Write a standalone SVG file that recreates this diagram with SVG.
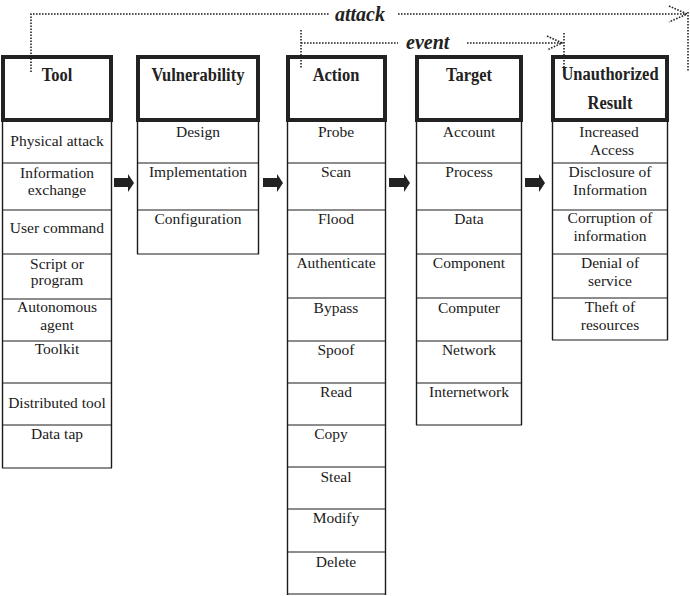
<svg xmlns="http://www.w3.org/2000/svg" width="690" height="596" viewBox="0 0 690 596">
<style>
.hdr{fill:none;stroke:#222;stroke-width:4}
.ln{stroke:#1a1a1a;stroke-width:1.4;fill:none}
.dv{stroke:#1a1a1a;stroke-width:1;fill:none}
.ht{font-family:"Liberation Serif",serif;font-weight:bold;font-size:16.5px;fill:#222;text-anchor:middle}
.bt{font-family:"Liberation Serif",serif;font-size:15.5px;fill:#1a1a1a;text-anchor:middle}
.lb{font-family:"Liberation Serif",serif;font-weight:bold;font-style:italic;font-size:20px;fill:#222}
.dot{stroke:#222;stroke-width:1.6;fill:none;stroke-dasharray:1.6,1.4}
.blk{fill:#222}
</style>
<rect width="690" height="596" fill="#fff"/>
<g id="tool">
<rect class="hdr" x="3" y="57" width="108" height="63"/>
<text class="ht" transform="translate(57,81) scale(1,1.18)">Tool</text>
<path class="ln" d="M2.5,122 V468 M111.5,122 V468"/>
<path class="dv" d="M2,163 H112 M2,210 H112 M2,254 H112 M2,299 H112 M2,341 H112 M2,383 H112 M2,425 H112 M2,468 H112"/>
<text class="bt" x="57" y="146">Physical attack</text>
<text class="bt" x="57" y="178">Information</text>
<text class="bt" x="57" y="195">exchange</text>
<text class="bt" x="57" y="233">User command</text>
<text class="bt" x="57" y="269">Script or</text>
<text class="bt" x="57" y="285">program</text>
<text class="bt" x="57" y="312">Autonomous</text>
<text class="bt" x="57" y="330">agent</text>
<text class="bt" x="57" y="354">Toolkit</text>
<text class="bt" x="57" y="408">Distributed tool</text>
<text class="bt" x="57" y="439">Data tap</text>
</g>
<g id="vulnerability">
<rect class="hdr" x="138" y="57" width="120" height="63"/>
<text class="ht" transform="translate(198,81) scale(1,1.18)">Vulnerability</text>
<path class="ln" d="M137.5,122 V254 M258.5,122 V254"/>
<path class="dv" d="M137,163 H259 M137,210 H259 M137,254 H259"/>
<text class="bt" x="198" y="137">Design</text>
<text class="bt" x="198" y="177">Implementation</text>
<text class="bt" x="198" y="224">Configuration</text>
</g>
<g id="action">
<rect class="hdr" x="288" y="57" width="97" height="63"/>
<text class="ht" transform="translate(336,81) scale(1,1.18)">Action</text>
<path class="ln" d="M287.5,122 V595 M385.5,122 V595"/>
<path class="dv" d="M287,163 H386 M287,210 H386 M287,254 H386 M287,298 H386 M287,341 H386 M287,383 H386 M287,425 H386 M287,467 H386 M287,509 H386 M287,552 H386 M287,594 H386"/>
<text class="bt" x="336" y="137">Probe</text>
<text class="bt" x="336" y="177">Scan</text>
<text class="bt" x="336" y="224">Flood</text>
<text class="bt" x="336" y="268">Authenticate</text>
<text class="bt" x="336" y="313">Bypass</text>
<text class="bt" x="336" y="355">Spoof</text>
<text class="bt" x="336" y="397">Read</text>
<text class="bt" x="331" y="439">Copy</text>
<text class="bt" x="336" y="482">Steal</text>
<text class="bt" x="336" y="523">Modify</text>
<text class="bt" x="336" y="567">Delete</text>
</g>
<g id="target">
<rect class="hdr" x="417" y="57" width="104" height="63"/>
<text class="ht" transform="translate(469,81) scale(1,1.18)">Target</text>
<path class="ln" d="M416.5,122 V425 M521.5,122 V425"/>
<path class="dv" d="M416,163 H522 M416,210 H522 M416,254 H522 M416,298 H522 M416,341 H522 M416,383 H522 M416,425 H522"/>
<text class="bt" x="469" y="137">Account</text>
<text class="bt" x="469" y="177">Process</text>
<text class="bt" x="469" y="224">Data</text>
<text class="bt" x="469" y="268">Component</text>
<text class="bt" x="469" y="313">Computer</text>
<text class="bt" x="469" y="355">Network</text>
<text class="bt" x="469" y="397">Internetwork</text>
</g>
<g id="result">
<rect class="hdr" x="553" y="57" width="114" height="63"/>
<text class="ht" transform="translate(610,80) scale(1,1.18)">Unauthorized</text>
<text class="ht" transform="translate(610,109) scale(1,1.18)">Result</text>
<path class="ln" d="M552.5,122 V340 M667.5,122 V340"/>
<path class="dv" d="M552,163 H668 M552,210 H668 M552,254 H668 M552,298 H668 M552,340 H668"/>
<text class="bt" x="609" y="137">Increased</text>
<text class="bt" x="612" y="155">Access</text>
<text class="bt" x="610" y="177">Disclosure of</text>
<text class="bt" x="610" y="195">Information</text>
<text class="bt" x="610" y="223">Corruption of</text>
<text class="bt" x="610" y="241">information</text>
<text class="bt" x="610" y="268">Denial of</text>
<text class="bt" x="610" y="286">service</text>
<text class="bt" x="610" y="312">Theft of</text>
<text class="bt" x="610" y="330">resources</text>
</g>
<g id="connectors">
<path class="blk" d="M114,178 H128 V174 L134,183 L128,192 V187 H114 Z"/>
<path class="blk" d="M263,178 H277 V174 L283,183 L277,192 V187 H263 Z"/>
<path class="blk" d="M389,178 H404 V174 L410,183 L404,192 V187 H389 Z"/>
<path class="blk" d="M525,178 H539 V174 L545,183 L539,192 V187 H525 Z"/>
<path class="dot" d="M31,72 V14 H330"/>
<path class="dot" d="M398,14 H686"/>
<path class="dot" d="M669,6 L687,14 L669,22"/>
<path class="dot" d="M688,12 V72"/>
<text class="lb" x="335" y="21">attack</text>
<path class="dot" d="M301,30 V68"/>
<path class="dot" d="M301,43 H398"/>
<path class="dot" d="M467,43 H562"/>
<path class="dot" d="M547,36 L562,43 L547,50"/>
<path class="dot" d="M564,33 V72"/>
<text class="lb" x="406" y="49">event</text>
</g>
</svg>
